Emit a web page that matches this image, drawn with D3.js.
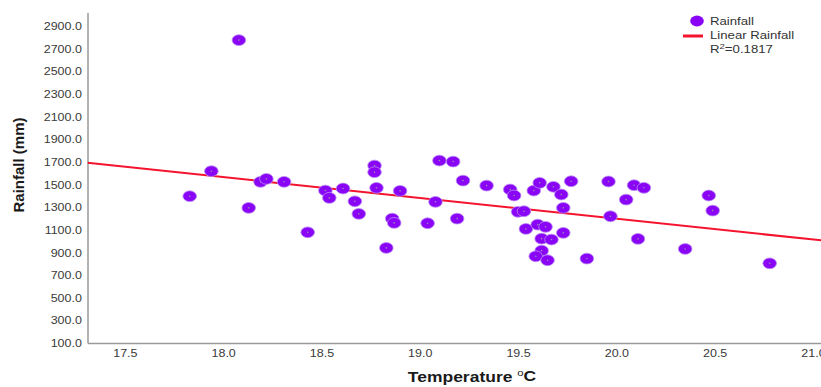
<!DOCTYPE html>
<html>
<head>
<meta charset="utf-8">
<script src="https://cdn.jsdelivr.net/npm/d3@7"></script>
<style>
  body { margin: 0; background: #fff; }
  text { font-family: Arial, "Liberation Sans", sans-serif; }
</style>
</head>
<body>
<div id="chart"></div>
<script>
//////////////////////////////////////////////////////////// DATA ////////////////////////////////////////////////////////////
// temperature (deg C) and rainfall (mm)
var temps = [17.83, 17.94, 18.08, 18.13, 18.19, 18.22, 18.31, 18.43, 18.52, 18.54,
             18.61, 18.67, 18.69, 18.77, 18.77, 18.78, 18.83, 18.86, 18.87, 18.90,
             19.04, 19.08, 19.10, 19.17, 19.19, 19.22, 19.34, 19.46, 19.48, 19.50,
             19.53, 19.54, 19.58, 19.61, 19.60, 19.64, 19.62, 19.67, 19.62, 19.59,
             19.65, 19.68, 19.72, 19.73, 19.73, 19.77, 19.85, 19.96, 19.97, 20.05,
             20.09, 20.14, 20.11, 20.35, 20.47, 20.49, 20.78];
var rainfall = [1397, 1618, 2776, 1294, 1524, 1550, 1524, 1078, 1447, 1382,
                1465, 1352, 1241, 1668, 1609, 1471, 940, 1199, 1161, 1444,
                1158, 1347, 1712, 1703, 1199, 1535, 1491, 1456, 1403, 1259,
                1264, 1108, 1447, 1515, 1146, 1126, 1022, 1014, 916, 866,
                831, 1480, 1412, 1294, 1073, 1529, 846, 1527, 1220, 1367,
                1494, 1471, 1020, 931, 1403, 1270, 804];

// linear fit shown in the chart
var fitSlope = -183.7;
var fitIntercept = 4872;
var rSquared = "0.1817";

var xTicks = [17.5, 18.0, 18.5, 19.0, 19.5, 20.0, 20.5, 21.0];
var yTicks = [100, 300, 500, 700, 900, 1100, 1300, 1500, 1700, 1900, 2100, 2300, 2500, 2700, 2900];

//////////////////////////////////////////////////////////// CHART ////////////////////////////////////////////////////////////
var w = 821, h = 387;
var padLeft = 87.5, padBottom = 343, padTop = 12.5;
var stretch = 1.25;   // the original picture is a bit wide
var dotColor = "#8a05f5";
var lineColor = "#f5142e";

var svg = d3.select("#chart").append("svg")
  .attr("width", w)
  .attr("height", h);

var x = d3.scaleLinear().domain([17.31, 21.1]).range([padLeft, padLeft + 3.79 * 196.6]);
var y = d3.scaleLinear().domain([100, 3020]).range([padBottom, padTop]);

var points = temps.map(function(t, i) { return { t: t, r: rainfall[i] }; });

// axes
var yAxis = svg.append("g")
  .attr("transform", "translate(" + padLeft + ",0)")
  .call(d3.axisLeft(y).tickValues(yTicks).tickFormat(d3.format(".1f")).tickSize(0).tickPadding(0));
var xAxis = svg.append("g")
  .attr("transform", "translate(0," + padBottom + ")")
  .call(d3.axisBottom(x).tickValues(xTicks).tickFormat(d3.format(".1f")).tickSize(0).tickPadding(0));

[yAxis, xAxis].forEach(function(a) {
  a.select(".domain").attr("stroke", "#9a9a9a").attr("stroke-width", 1.5);
  a.selectAll("text").attr("fill", "#3a3a3a").attr("font-size", "10px");
});
yAxis.selectAll("text").attr("x", -4.5).attr("dy", "0.36em")
  .attr("transform", "scale(" + stretch + ",1)");
xAxis.selectAll("text").attr("y", 14).attr("dy", 0)
  .attr("transform", "scale(" + stretch + ",1)");

// regression line, clipped to the plot
svg.append("clipPath").attr("id", "plot")
  .append("rect").attr("x", padLeft).attr("y", padTop).attr("width", w - padLeft).attr("height", padBottom - padTop);

var fitX = x.domain();
svg.append("line")
  .attr("clip-path", "url(#plot)")
  .attr("x1", x(fitX[0])).attr("y1", y(fitIntercept + fitSlope * fitX[0]))
  .attr("x2", x(fitX[1])).attr("y2", y(fitIntercept + fitSlope * fitX[1]))
  .attr("stroke", lineColor)
  .attr("stroke-width", 2);

// points
var dots = svg.append("g").selectAll("g")
  .data(points)
  .enter()
  .append("g")
  .attr("transform", function(d) { return "translate(" + x(d.t) + "," + y(d.r) + ")"; });
dots.append("ellipse")
  .attr("rx", 6.8).attr("ry", 5.4)
  .attr("fill", dotColor)
  .attr("stroke", "#b98cf5").attr("stroke-width", 0.8);
dots.append("circle")
  .attr("r", 0.8)
  .attr("fill", "#9a8ab0");

// axis titles
svg.append("text")
  .attr("transform", "translate(24,165) rotate(-90)")
  .attr("text-anchor", "middle")
  .attr("font-size", "15px")
  .attr("font-weight", "bold")
  .attr("fill", "#1a1a1a")
  .text("Rainfall (mm)");

var xt = svg.append("text")
  .attr("transform", "translate(472,382) scale(" + stretch + ",1)")
  .attr("text-anchor", "middle")
  .attr("font-size", "14px")
  .attr("font-weight", "bold")
  .attr("fill", "#1a1a1a");
xt.append("tspan").text("Temperature ");
xt.append("tspan").attr("font-size", "9px").attr("font-weight", "normal").attr("dy", -6).text("o");
xt.append("tspan").attr("dy", 5).text("C");

// legend
var lg = svg.append("g").attr("transform", "translate(697,21)");
lg.append("ellipse").attr("rx", 6.8).attr("ry", 5.4).attr("fill", dotColor);
lg.append("line").attr("x1", -14).attr("x2", 6).attr("y1", 15).attr("y2", 15)
  .attr("stroke", lineColor).attr("stroke-width", 3);
var lgText = lg.append("g").attr("transform", "translate(13,0) scale(1.2,1)")
  .attr("font-size", "11px").attr("fill", "#333");
lgText.append("text").attr("y", 4).text("Rainfall");
lgText.append("text").attr("y", 18).text("Linear Rainfall");
var r2 = lgText.append("text").attr("y", 32);
r2.append("tspan").text("R");
r2.append("tspan").attr("font-size", "8px").attr("dy", -4).text("2");
r2.append("tspan").attr("dy", 4).text("=" + rSquared);
</script>
</body>
</html>
